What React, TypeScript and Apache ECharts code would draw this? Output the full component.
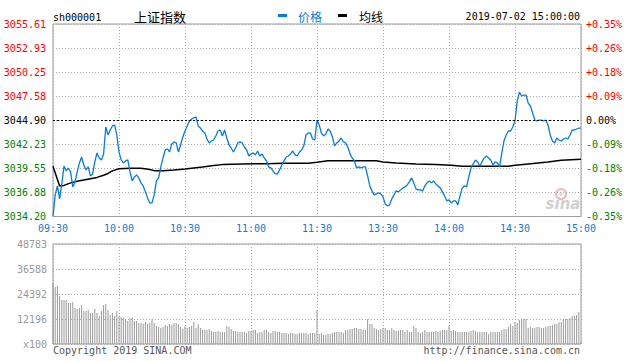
import React, { useEffect, useRef } from "react";
import * as echarts from "echarts";

const TIME_LABELS = ["09:30", "10:00", "10:30", "11:00", "11:30", "13:30", "14:00", "14:30", "15:00"];
const PRICE_TICK_LABELS = ["3034.20", "3036.88", "3039.55", "3042.23", "3044.90", "3047.58", "3050.25", "3052.93", "3055.61"];
const PCT_TICK_LABELS = ["-0.35%", "-0.26%", "-0.18%", "-0.09%", "0.00%", "+0.09%", "+0.18%", "+0.26%", "+0.35%"];
const VOL_TICK_LABELS = ["x100", "12196", "24392", "36588", "48783"];
const PREV_CLOSE = 3044.9;
const PRICE_MIN = 3034.2;
const PRICE_MAX = 3055.61;
const VOL_MAX = 48783;
const MINUTES = 240;

const PRICES = [
  3034.20, 3036.60, 3037.60, 3036.16, 3037.82, 3039.82, 3039.27, 3039.60, 3039.16, 3037.49,
  3038.05, 3039.16, 3040.16, 3040.82, 3039.93, 3039.38, 3039.71, 3038.71, 3038.93, 3040.27,
  3041.27, 3040.71, 3040.49, 3041.16, 3044.16, 3043.27, 3043.82, 3044.27, 3044.38, 3043.27,
  3041.38, 3040.49, 3040.16, 3040.38, 3040.49, 3039.16, 3038.16, 3038.60, 3038.82, 3038.49,
  3037.94, 3037.60, 3036.94, 3036.27, 3035.71, 3035.71, 3036.60, 3038.16, 3038.49, 3039.71,
  3040.71, 3041.60, 3041.71, 3041.38, 3042.27, 3042.49, 3042.38, 3041.38, 3042.16, 3043.05,
  3043.71, 3044.27, 3044.82, 3045.04, 3045.16, 3045.27, 3044.27, 3044.04, 3043.71, 3043.49,
  3042.82, 3042.38, 3042.60, 3042.71, 3043.16, 3043.71, 3043.82, 3043.16, 3043.82, 3042.93,
  3042.16, 3041.82, 3041.38, 3041.82, 3042.38, 3042.49, 3042.38, 3041.93, 3041.60, 3040.93,
  3041.16, 3041.27, 3041.05, 3041.49, 3040.93, 3041.16, 3040.71, 3040.38, 3039.71, 3039.60,
  3039.27, 3038.93, 3038.93, 3039.38, 3039.93, 3040.38, 3040.82, 3040.93, 3041.16, 3041.49,
  3041.05, 3040.93, 3041.38, 3041.60, 3042.05, 3043.27, 3043.49, 3043.49, 3042.82, 3042.71,
  3044.93,
  3044.38, 3043.49, 3043.16, 3043.38, 3043.93, 3043.71, 3043.05, 3042.05, 3042.38, 3042.60,
  3042.93, 3042.49, 3042.38, 3041.93, 3041.16, 3040.71, 3040.38, 3039.60, 3039.71, 3039.60,
  3039.71, 3039.71, 3038.71, 3037.60, 3037.05, 3036.60, 3036.71, 3036.82, 3036.71, 3036.38,
  3035.60, 3035.38, 3035.49, 3036.16, 3036.60, 3037.05, 3036.94, 3037.16, 3037.38, 3037.49,
  3037.71, 3038.05, 3038.49, 3037.94, 3037.27, 3037.16, 3037.16, 3037.05, 3037.60, 3037.94,
  3038.16, 3037.94, 3038.16, 3037.82, 3037.60, 3037.38, 3036.94, 3036.49, 3035.94, 3036.05,
  3035.71, 3035.94, 3035.94, 3035.49, 3036.49, 3037.38, 3037.60, 3037.49, 3038.60, 3039.60,
  3040.05, 3040.49, 3040.27, 3039.82, 3040.27, 3040.71, 3040.93, 3040.71, 3040.49, 3039.93,
  3040.27, 3040.16, 3039.71, 3041.27, 3042.60, 3043.27, 3043.71, 3043.71, 3044.16, 3044.82,
  3047.04, 3048.04, 3047.60, 3047.71, 3047.71, 3046.82, 3046.49, 3045.71, 3044.93, 3044.82,
  3044.93, 3044.93, 3044.82, 3044.93, 3044.38, 3043.27, 3042.60, 3042.38, 3042.93, 3042.71,
  3042.60, 3042.82, 3042.93, 3042.82, 3043.27, 3043.82, 3043.82, 3043.93, 3044.04, 3044.04,
];

const AVG_MINUTES = [0, 3, 5, 8, 11, 14, 17, 20, 23, 25, 27, 30, 35, 40, 44, 46, 50, 55, 60, 64, 68, 73, 77, 86, 97, 105, 116, 120, 125, 135, 147, 150, 156, 165, 174, 181, 186, 207, 210, 216, 225, 231, 240];
const AVG_VALUES = [3039.79, 3037.60, 3037.66, 3037.94, 3038.12, 3038.27, 3038.41, 3038.55, 3038.79, 3038.99, 3039.27, 3039.52, 3039.57, 3039.57, 3039.43, 3039.30, 3039.30, 3039.38, 3039.49, 3039.60, 3039.71, 3039.86, 3039.97, 3040.05, 3040.08, 3040.12, 3040.12, 3040.23, 3040.41, 3040.41, 3040.41, 3040.27, 3040.16, 3040.05, 3039.97, 3039.90, 3039.79, 3039.79, 3039.90, 3040.05, 3040.27, 3040.46, 3040.57];

const VOLUMES = [
  29760, 27810, 28290, 23420, 21460, 21460, 21460, 20000, 20000, 20490,
  17560, 17070, 17560, 19030, 16100, 16100, 16590, 15120, 15120, 17070,
  15120, 13660, 16100, 19030, 19510, 16590, 14150, 15120, 13660, 16100,
  13660, 13170, 12680, 12200, 11220, 12680, 12680, 11220, 11220, 10240,
  10240, 9760, 10730, 9760, 10240, 12200, 10240, 8780, 8290, 7810,
  8290, 9270, 8780, 9760, 9270, 10240, 10240, 9760, 8290, 7320,
  8780, 7810, 8290, 8780, 10730, 7810, 9760, 7810, 6830, 6830,
  6830, 7320, 6340, 5850, 5850, 6340, 5850, 5850, 5850, 8780,
  8290, 7320, 6340, 6340, 5850, 5850, 5850, 5850, 5370, 6340,
  6340, 6830, 6830, 5370, 5850, 5850, 6830, 6830, 5850, 5370,
  6340, 6340, 5850, 5850, 5370, 5370, 5370, 4880, 5370, 5370,
  4880, 4880, 5370, 5370, 5370, 5370, 4880, 5370, 5370, 5370,
  16590,
  4880, 5370, 4390, 4390, 4880, 4880, 5370, 5850, 5850, 5850,
  5850, 5370, 6830, 6830, 7320, 7320, 7810, 7810, 7320, 7320,
  6830, 6830, 12200, 9760, 9760, 7810, 7320, 6830, 7320, 7810,
  7810, 6830, 6830, 7810, 6830, 6340, 6340, 6830, 6830, 5850,
  6830, 5850, 5850, 8780, 7810, 5850, 5370, 5850, 6830, 5850,
  5850, 5850, 5850, 6340, 5850, 6340, 6830, 6830, 6830, 8780,
  6340, 6830, 6340, 5850, 5850, 5850, 5850, 5850, 5850, 6340,
  6830, 6340, 5850, 5850, 5850, 5850, 5850, 4880, 5850, 5850,
  5850, 5850, 5850, 6830, 7320, 7320, 8290, 9760, 8780, 10730,
  10240, 11710, 12200, 12200, 12200, 7810, 8290, 7810, 7810, 8290,
  8290, 7810, 7810, 8290, 8780, 8780, 9270, 9760, 9760, 10730,
  10730, 12200, 12200, 12200, 12680, 13660, 13660, 14150, 15610, 980,
];

const MONO = "DejaVu Sans Mono";
const CJK = "Noto Sans CJK SC";
const BLUE = "#0a7bd6";
const LABEL_BLUE = "#1a78cf";
const RED = "#ff0000";
const GREEN = "#008000";
const GRID_COLOR = "#aaaaaa";
const BORDER = "#999999";

function signColor(idx: number) {
  if (idx > 4) return RED;
  if (idx < 4) return GREEN;
  return "#000000";
}

export default function App() {
  const ref = useRef<HTMLDivElement>(null);

  useEffect(() => {
    document.body.style.margin = "0";
    if (!ref.current) return;
    const chart = echarts.init(ref.current, undefined, { renderer: "svg" });
    const dotted = { show: true, lineStyle: { color: GRID_COLOR, type: [1, 2] as any, width: 1 } };

    const textEl = (text: string, x: number, y: number, font: string, fill: string, align = "left") => ({
      type: "text",
      silent: true,
      style: { text, x, y, font, fill, align, textAlign: align, verticalAlign: "middle", textVerticalAlign: "middle" },
    });

    chart.setOption({
      animation: false,
      backgroundColor: "#ffffff",
      grid: [
        { left: 53, top: 24, width: 528, height: 192.5, show: true, borderColor: BORDER, borderWidth: 1, containLabel: false },
        { left: 53, top: 244, width: 528, height: 100, show: true, borderColor: BORDER, borderWidth: 1, containLabel: false },
      ],
      xAxis: [
        {
          type: "value", gridIndex: 0, min: 0, max: MINUTES, interval: 30,
          axisLine: { show: false }, axisTick: { show: false },
          axisLabel: {
            formatter: (v: number) => TIME_LABELS[Math.round(v / 30)] ?? "",
            color: LABEL_BLUE, fontFamily: MONO, fontSize: 10, margin: 7,
          },
          splitLine: dotted,
        },
        {
          type: "value", gridIndex: 1, min: 0, max: MINUTES, interval: 30,
          axisLine: { show: false }, axisTick: { show: false }, axisLabel: { show: false },
          splitLine: dotted,
        },
      ],
      yAxis: [
        {
          type: "value", gridIndex: 0, position: "left", min: 0, max: 8, interval: 1,
          axisLine: { show: false }, axisTick: { show: false },
          axisLabel: {
            formatter: (v: number) => PRICE_TICK_LABELS[Math.round(v)] ?? "",
            color: (v: any) => signColor(Math.round(Number(v))),
            fontFamily: MONO, fontSize: 10, margin: 7,
          },
          splitLine: dotted,
        },
        {
          type: "value", gridIndex: 0, position: "right", min: 0, max: 8, interval: 1,
          axisLine: { show: false }, axisTick: { show: false },
          axisLabel: {
            formatter: (v: number) => PCT_TICK_LABELS[Math.round(v)] ?? "",
            color: (v: any) => signColor(Math.round(Number(v))),
            fontFamily: MONO, fontSize: 10, margin: 5,
          },
          splitLine: { show: false },
        },
        {
          type: "value", gridIndex: 0, min: PRICE_MIN, max: PRICE_MAX, show: false,
          splitLine: { show: false },
        },
        {
          type: "value", gridIndex: 1, position: "left", min: 0, max: VOL_MAX, interval: VOL_MAX / 4,
          axisLine: { show: false }, axisTick: { show: false },
          axisLabel: {
            formatter: (_v: number, idx: number) => VOL_TICK_LABELS[idx] ?? "",
            color: "#999999", fontFamily: MONO, fontSize: 10, margin: 6,
          },
          splitLine: dotted,
        },
      ],
      series: [
        {
          type: "bar", xAxisIndex: 1, yAxisIndex: 3, barWidth: 1,
          data: VOLUMES.map((v, i) => [i, v]),
          itemStyle: { color: "#999999" },
          silent: true,
        },
        {
          type: "line", xAxisIndex: 0, yAxisIndex: 2, name: "均线",
          data: AVG_MINUTES.map((m, i) => [m, AVG_VALUES[i]]),
          showSymbol: false, symbol: "none",
          lineStyle: { color: "#000000", width: 1.5 },
          silent: true,
        },
        {
          type: "line", xAxisIndex: 0, yAxisIndex: 2, name: "价格",
          data: PRICES.map((p, i) => [i, p]),
          showSymbol: false, symbol: "none",
          lineStyle: { color: BLUE, width: 1.3 },
          silent: true,
          markLine: {
            silent: true, symbol: "none", label: { show: false },
            lineStyle: { color: "#000000", type: [2, 2] as any, width: 1 },
            data: [{ yAxis: PREV_CLOSE }],
          },
        },
      ],
      graphic: [
        textEl("sh000001", 53, 17, `10px ${MONO}`, "#000000"),
        textEl("上证指数", 134, 16, `13px "${CJK}"`, "#000000"),
        { type: "rect", silent: true, shape: { x: 278, y: 14, width: 9, height: 3 }, style: { fill: BLUE } },
        textEl("价格", 298, 16, `12px "${CJK}"`, BLUE),
        { type: "rect", silent: true, shape: { x: 338, y: 14, width: 9, height: 3 }, style: { fill: "#000000" } },
        textEl("均线", 359, 16, `12px "${CJK}"`, "#000000"),
        textEl("2019-07-02 15:00:00", 580, 16, `10px ${MONO}`, "#000000", "right"),
        textEl("Copyright 2019 SINA.COM", 53, 350, `10px ${MONO}`, "#555555"),
        textEl("http://finance.sina.com.cn", 580, 350, `10px ${MONO}`, "#555555", "right"),
        { type: "circle", silent: true, shape: { cx: 561, cy: 194, r: 5 }, style: { fill: "none", stroke: "#f2b8b8", lineWidth: 2 } },
        { type: "circle", silent: true, shape: { cx: 561, cy: 194, r: 1.8 }, style: { fill: "#d8d8d8" } },
        textEl("sina", 563, 204, `italic bold 15px "DejaVu Sans"`, "#d0d0d0", "center"),
      ],
    });
    return () => chart.dispose();
  }, []);

  return <div ref={ref} style={{ width: 631, height: 362 }} />;
}
